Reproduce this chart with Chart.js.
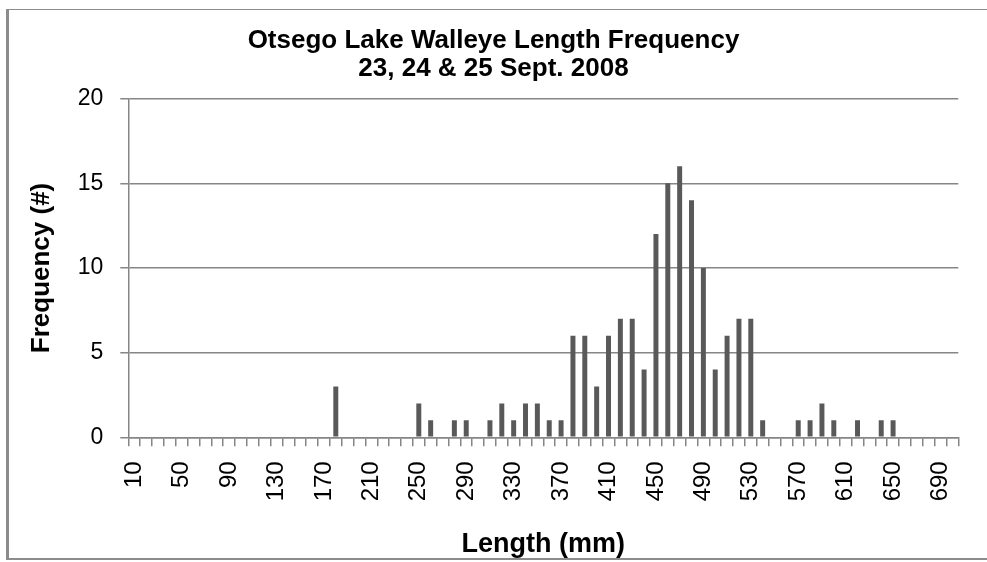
<!DOCTYPE html>
<html>
<head>
<meta charset="utf-8">
<title>Otsego Lake Walleye Length Frequency</title>
<script src="https://cdn.jsdelivr.net/npm/chart.js@4.4.1/dist/chart.umd.min.js"></script>
<style>
  html, body { margin: 0; padding: 0; background: #fff; }
  #wrap { position: relative; width: 987px; height: 562px; overflow: hidden; }
  #frame {
    position: absolute; left: 6px; top: 9px; width: 1000px; height: 548px;
    border-left: 3px solid #8c8c8c; border-top: 1px solid #8c8c8c; border-bottom: 2px solid #8c8c8c;
    pointer-events: none;
  }
  canvas { position: absolute; left: 0; top: 0; }
</style>
</head>
<body>
<div id="wrap">
  <canvas id="lengthChart" width="987" height="562"></canvas>
  <div id="frame"></div>
</div>
<script>
// length classes (mm)
const lengths = [
  10, 20, 30, 40, 50, 60, 70, 80, 90, 100,
  110, 120, 130, 140, 150, 160, 170, 180, 190, 200,
  210, 220, 230, 240, 250, 260, 270, 280, 290, 300,
  310, 320, 330, 340, 350, 360, 370, 380, 390, 400,
  410, 420, 430, 440, 450, 460, 470, 480, 490, 500,
  510, 520, 530, 540, 550, 560, 570, 580, 590, 600,
  610, 620, 630, 640, 650, 660, 670, 680, 690, 700
];

// number of walleye per length class
const frequency = [
  0, 0, 0, 0, 0, 0, 0, 0, 0, 0,
  0, 0, 0, 0, 0, 0, 0, 3, 0, 0,
  0, 0, 0, 0, 2, 1, 0, 1, 1, 0,
  1, 2, 1, 2, 2, 1, 1, 6, 6, 3,
  6, 7, 7, 4, 12, 15, 16, 14, 10, 4,
  6, 7, 7, 1, 0, 0, 1, 1, 2, 1,
  0, 1, 0, 1, 1, 0, 0, 0, 0, 0
];

// labels printed under the axis
const shownLabels = [10, 50, 90, 130, 170, 210, 250, 290, 330, 370, 410, 450, 490, 530, 570, 610, 650, 690];

const yTicks = [0, 5, 10, 15, 20];

const GRID = '#868686';
const FONT = "'Liberation Sans', Arial, sans-serif";

new Chart(document.getElementById('lengthChart'), {
  type: 'bar',
  data: {
    labels: lengths,
    datasets: [{
      label: 'Frequency',
      data: frequency,
      backgroundColor: '#595959',
      barPercentage: 0.42,
      categoryPercentage: 1.0
    }]
  },
  options: {
    responsive: false,
    animation: false,
    devicePixelRatio: 1,
    layout: { padding: 0 },
    plugins: {
      legend: { display: false },
      tooltip: { enabled: false },
      title: {
        display: true,
        text: ['Otsego Lake Walleye Length Frequency', '23, 24 & 25 Sept. 2008'],
        color: '#000',
        font: { family: FONT, size: 26, weight: 'bold', lineHeight: 1.06 },
        padding: { top: 27.2, bottom: 16.3 }
      }
    },
    scales: {
      x: {
        grid: {
          display: true,
          drawOnChartArea: false,
          drawTicks: true,
          tickLength: 9,
          offset: true,
          color: GRID,
          lineWidth: 1.5
        },
        border: { display: true, color: GRID, width: 1.5 },
        ticks: {
          autoSkip: false,
          minRotation: 90,
          maxRotation: 90,
          padding: 15,
          color: '#000',
          font: { family: FONT, size: 24 },
          callback: function (val, i) {
            return shownLabels.includes(lengths[i]) ? String(lengths[i]) : '';
          }
        },
        title: {
          display: true,
          text: 'Length (mm)',
          color: '#000',
          font: { family: FONT, size: 27, weight: 'bold' },
          padding: { top: 0, bottom: 1 }
        },
        afterFit: function (scale) {
          scale.height = 124.7;
          scale.paddingLeft = 0;
          scale.paddingRight = 28.7;
        }
      },
      y: {
        min: 0,
        max: 20,
        afterBuildTicks: function (scale) {
          scale.ticks = yTicks.map(v => ({ value: v }));
        },
        grid: {
          color: GRID,
          lineWidth: 1.5,
          drawTicks: true,
          tickLength: 8
        },
        border: { display: true, color: GRID, width: 1.5 },
        ticks: {
          padding: 17,
          color: '#000',
          font: { family: FONT, size: 23 }
        },
        title: {
          display: true,
          text: 'Frequency (#)',
          color: '#000',
          font: { family: FONT, size: 26, weight: 'bold' },
          padding: { top: 26, bottom: 0 }
        },
        afterFit: function (scale) { scale.width = 128.3; }
      }
    }
  }
});
</script>
</body>
</html>
